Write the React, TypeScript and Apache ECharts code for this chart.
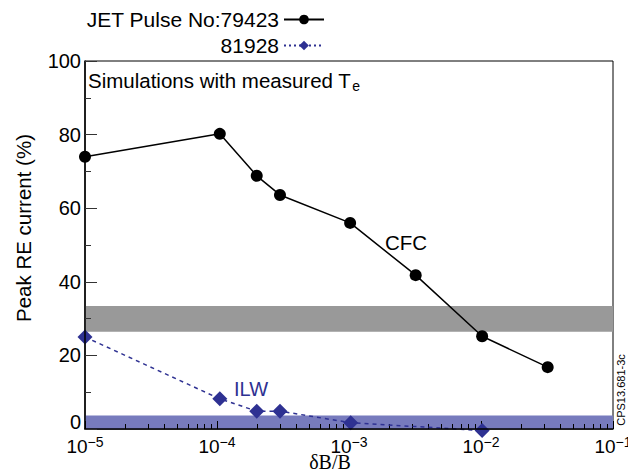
import React, { useEffect, useRef } from "react";
import * as echarts from "echarts";

const cfcX = [1e-5, 1.05e-4, 2e-4, 3e-4, 1.02e-3, 3.2e-3, 1.02e-2, 3.2e-2];
const cfcY = [74, 80.2, 68.8, 63.6, 56, 41.8, 25.2, 16.8];
const ilwX = [1e-5, 1.05e-4, 2e-4, 3e-4, 1.03e-3, 1.02e-2];
const ilwY = [25, 8.2, 4.85, 4.85, 1.7, -0.4];
const grayBand = [26.4, 33.4];
const blueBand = [0, 3.7];
const decades = [1e-5, 1e-4, 1e-3, 1e-2];
const mantissas = [1, 2, 3, 4, 5, 6, 7, 8, 9];
const seriesNames = ["JET Pulse No:79423", "81928"];

const BLUE = "#2e3192";

export default function App() {
  const ref = useRef<HTMLDivElement>(null);
  useEffect(() => {
    document.body.style.margin = "0";
    const chart = echarts.init(ref.current!, null, { renderer: "svg" });
    const ticks: number[][] = [];
    decades.forEach((d) => mantissas.forEach((m) => ticks.push([d * m, 0, m === 1 ? 8 : 5])));
    ticks.push([1e-1, 0, 8]);
    chart.setOption({
      animation: false,
      textStyle: { fontFamily: "Liberation Sans, Arial, sans-serif" },
      grid: {
        left: 85,
        right: 15,
        top: 61,
        bottom: 44,
        outerBoundsMode: "none",
        containLabel: false,
        show: true,
        borderColor: "#000",
        borderWidth: 1,
        backgroundColor: "transparent",
      },
      legend: {
        orient: "vertical",
        align: "right",
        right: 303,
        top: 9,
        padding: 0,
        itemWidth: 40,
        itemHeight: 12,
        itemGap: 5,
        data: [
          { name: seriesNames[0] },
          { name: seriesNames[1], lineStyle: { type: [2, 3] } },
        ],
        textStyle: { fontSize: 21, color: "#000" },
      },
      xAxis: {
        type: "log",
        logBase: 10,
        min: 1e-5,
        max: 1e-1,
        z: 10,
        axisLine: { show: true, lineStyle: { color: "#000", width: 1.5 } },
        axisTick: { show: false },
        splitLine: { show: false },
        axisLabel: {
          margin: 6,
          color: "#000",
          hideOverlap: false,
          formatter: (v: number) => {
            const e = Math.round(Math.log10(v));
            return `{b|10}{s|${e < 0 ? "\u2212" : ""}${Math.abs(e)}}`;
          },
          rich: {
            b: { fontSize: 19, color: "#000" },
            s: { fontSize: 14, color: "#000", padding: [0, 0, 9, 0] },
          },
        },
        name: "\u03b4B/B",
        nameLocation: "middle",
        nameGap: 23,
        nameMoveOverlap: false,
        nameTextStyle: {
          fontFamily: "Liberation Serif, Times New Roman, serif",
          fontSize: 20,
          color: "#000",
          padding: [0, 38, 0, 0],
        },
      },
      yAxis: {
        type: "value",
        min: 0,
        max: 100,
        interval: 20,
        z: 10,
        axisLine: { show: true, lineStyle: { color: "#000", width: 1.5 } },
        axisTick: { show: true, inside: true, length: 12, lineStyle: { color: "#333" } },
        minorTick: { show: true, splitNumber: 2, length: 6, lineStyle: { color: "#333" } },
        splitLine: { show: false },
        axisLabel: {
          fontSize: 20,
          color: "#000",
          margin: 4,
          formatter: (v: number) => (v === 0 ? "{z|0}" : String(v)),
          rich: { z: { fontSize: 20, color: "#000", padding: [0, 0, 14, 0] } },
        },
      },
      graphic: [
        {
          type: "text",
          left: 88,
          top: 70,
          style: {
            text: "Simulations with measured T{sub|e}",
            fontSize: 20.5,
            fill: "#000",
            fontFamily: "Liberation Sans, Arial, sans-serif",
            rich: { sub: { fontSize: 14, padding: [10, 0, 0, 1] } },
          },
        },
        {
          type: "text",
          x: 385,
          y: 242,
          style: {
            text: "CFC",
            fontSize: 20.5,
            fill: "#000",
            verticalAlign: "middle",
            fontFamily: "Liberation Sans, Arial, sans-serif",
          },
        },
        {
          type: "text",
          x: 234,
          y: 389,
          style: {
            text: "ILW",
            fontSize: 20,
            fill: BLUE,
            verticalAlign: "middle",
            fontFamily: "Liberation Sans, Arial, sans-serif",
          },
        },
        {
          type: "text",
          x: 23,
          y: 228,
          rotation: Math.PI / 2,
          style: {
            text: "Peak RE current (%)",
            fontSize: 20.5,
            fill: "#000",
            align: "center",
            verticalAlign: "middle",
            fontFamily: "Liberation Sans, Arial, sans-serif",
          },
        },
        {
          type: "text",
          x: 621,
          y: 390,
          rotation: Math.PI / 2,
          style: {
            text: "CPS13.681-3c",
            fontSize: 11,
            fill: "#000",
            align: "center",
            verticalAlign: "middle",
            fontFamily: "Liberation Sans, Arial, sans-serif",
          },
        },
      ],
      series: [
        {
          name: "bands",
          type: "line",
          data: [],
          z: 0,
          silent: true,
          markArea: {
            silent: true,
            z: 0,
            data: [
              [
                { yAxis: grayBand[0], itemStyle: { color: "#999999", opacity: 1 } },
                { yAxis: grayBand[1] },
              ],
              [
                { yAxis: blueBand[0], itemStyle: { color: "#777bbd", opacity: 1 } },
                { yAxis: blueBand[1] },
              ],
            ],
          },
        },
        {
          name: "xTicks",
          type: "custom",
          data: ticks,
          z: 4,
          clip: false,
          silent: true,
          renderItem: (params: any, api: any) => {
            const p = api.coord([api.value(0), api.value(1)]);
            const len = api.value(2);
            const x = Math.round(p[0]) + 0.5;
            return {
              type: "line",
              shape: { x1: x, y1: p[1], x2: x, y2: p[1] - len },
              style: { stroke: "#000", lineWidth: 1 },
            };
          },
        },
        {
          name: seriesNames[0],
          type: "line",
          z: 5,
          clip: false,
          data: cfcX.map((x, i) => [x, cfcY[i]]),
          symbol: "circle",
          symbolSize: 12,
          itemStyle: { color: "#000" },
          lineStyle: { color: "#000", width: 1.5 },
        },
        {
          name: seriesNames[1],
          type: "line",
          z: 5,
          clip: false,
          data: ilwX.map((x, i) => [x, ilwY[i]]),
          symbol: "diamond",
          symbolSize: 15,
          itemStyle: { color: BLUE },
          lineStyle: { color: BLUE, width: 1.5, type: [4, 4] },
        },
      ],
    });
    return () => chart.dispose();
  }, []);
  return <div ref={ref} style={{ width: 628, height: 473 }} />;
}
